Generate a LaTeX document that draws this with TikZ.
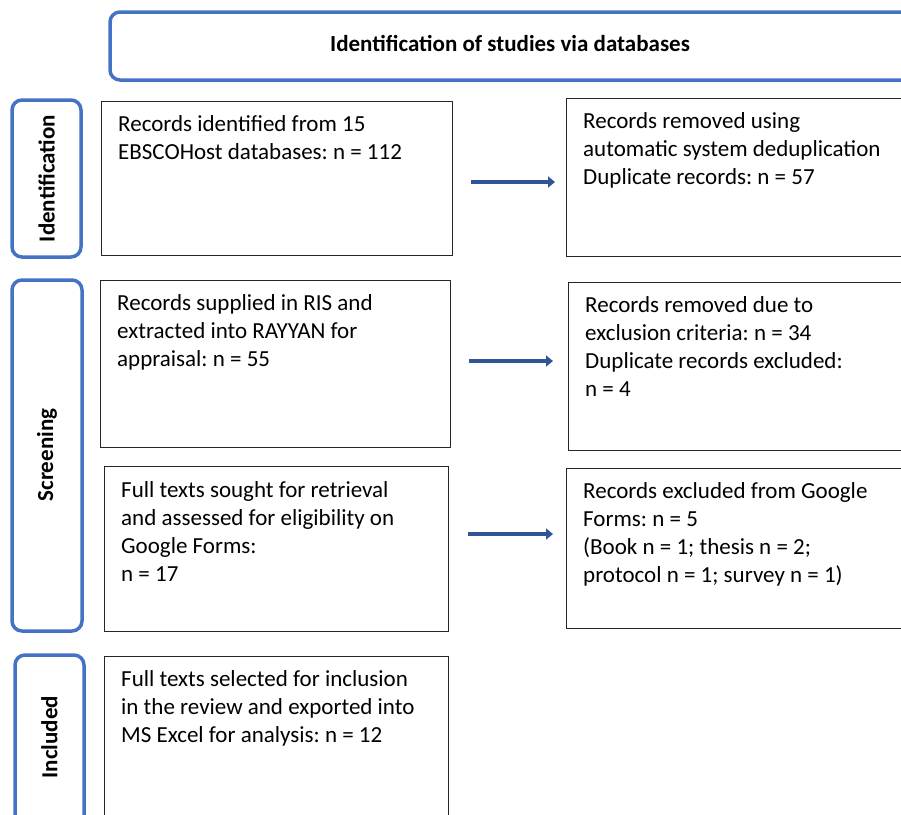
\documentclass[tikz,border=0pt]{standalone}
\usepackage{fontspec}
\setmainfont{Carlito}
\usetikzlibrary{arrows.meta}
\definecolor{phase}{HTML}{4472C4}
\definecolor{arrcol}{HTML}{2F5597}
\begin{document}
\frenchspacing
\begin{tikzpicture}[x=1pt,y=-1pt,
  phasebox/.style={draw=phase,line width=3.5pt,rounded corners=10pt},
  flowbox/.style={draw=black!85,line width=1.4pt,anchor=north west,inner sep=0pt},
  boxtext/.style={anchor=north west,inner sep=0pt,align=left,font=\fontsize{23}{28}\selectfont},
  sidetext/.style={rotate=90,inner sep=0pt,font=\bfseries\fontsize{23}{27}\selectfont},
  arr/.style={-{Triangle[length=7pt,width=11pt]},line width=4pt,draw=arrcol}
]
\useasboundingbox (0,0) rectangle (901,814);
\clip (0,0) rectangle (901,814);
% header
\draw[phasebox] (110,12) rectangle (925,80);
\node[inner sep=0pt,font=\bfseries\fontsize{23}{27}\selectfont] (title) at (510,43) {Identification of studies via databases};
% side phase boxes
\draw[phasebox] (12,100) rectangle (81,257);
\node[sidetext] (pid) at (46.5,178.5) {Identification};
\draw[phasebox] (12,280) rectangle (82,631);
\node[sidetext] (pscr) at (47,455) {Screening};
\draw[phasebox] (15,655) rectangle (84,840);
\node[sidetext] (pinc) at (49.5,737) {Included};
% flow boxes
\node[flowbox,minimum width=351pt,minimum height=154pt] (b1) at (101,101) {};
\node[boxtext] (t1) at (118,115) {Records identified from 15\\EBSCOHost databases: n = 112};
\node[flowbox,minimum width=350pt,minimum height=158pt] (b2) at (566,98) {};
\node[boxtext] (t2) at (583,112) {Records removed using\\automatic system deduplication\\Duplicate records: n = 57};
\node[flowbox,minimum width=350pt,minimum height=167pt] (b3) at (100,280) {};
\node[boxtext] (t3) at (117,294) {Records supplied in RIS and\\extracted into RAYYAN for\\appraisal: n = 55};
\node[flowbox,minimum width=350pt,minimum height=168pt] (b4) at (568,282) {};
\node[boxtext] (t4) at (585,296) {Records removed due to\\exclusion criteria: n = 34\\Duplicate records excluded:\\n = 4};
\node[flowbox,minimum width=344pt,minimum height=165pt] (b5) at (104,466) {};
\node[boxtext] (t5) at (121,481) {Full texts sought for retrieval\\and assessed for eligibility on\\Google Forms:\\n = 17};
\node[flowbox,minimum width=350pt,minimum height=160pt] (b6) at (566,468) {};
\node[boxtext] (t6) at (583,482) {Records excluded from Google\\Forms: n = 5\\(Book n = 1; thesis n = 2;\\protocol n = 1; survey n = 1)};
\node[flowbox,minimum width=344pt,minimum height=180pt] (b7) at (104,656) {};
\node[boxtext] (t7) at (121,670) {Full texts selected for inclusion\\in the review and exported into\\MS Excel for analysis: n = 12};
% arrows
\draw[arr,shorten <=18pt,shorten >=11pt] (b1.east |- 0,182) -- (b2.west |- 0,182);
\draw[arr,shorten <=18pt,shorten >=15pt] (b3.east |- 0,361) -- (b4.west |- 0,361);
\draw[arr,shorten <=19pt,shorten >=13pt] (b5.east |- 0,534) -- (b6.west |- 0,534);
\end{tikzpicture}
\end{document}
